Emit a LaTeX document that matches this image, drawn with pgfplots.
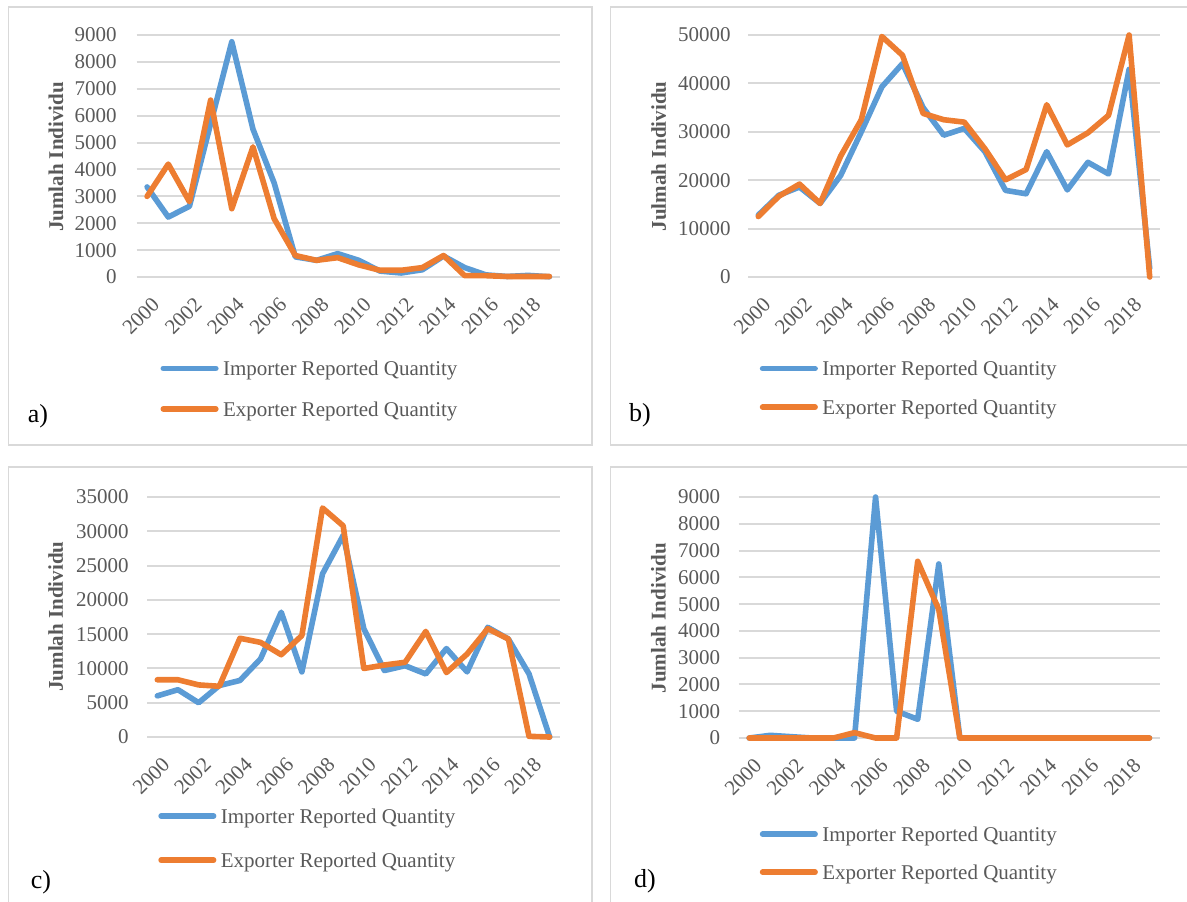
\documentclass[border=0pt]{standalone}
\usepackage{fontspec}
\setmainfont{Liberation Serif}
\usepackage{pgfplots}
\pgfplotsset{compat=1.18}
\definecolor{impblue}{HTML}{5B9BD5}
\definecolor{exporange}{HTML}{ED7D31}
\definecolor{gridgray}{HTML}{D9D9D9}
\definecolor{textgray}{HTML}{595959}
\definecolor{boxgray}{HTML}{D9D9D9}

\pgfplotsset{
  panel/.style={
    scale only axis,
    anchor=south west,
    clip=false,
    xmin=1999.5, xmax=2019.5,
    ymin=0,
    axis line style={draw=none},
    major tick length=0pt,
    ymajorgrids,
    grid style={gridgray, line width=1pt},
    xtick={2000,2002,...,2018},
    /pgf/number format/assume math mode=true,
    /pgf/number format/1000 sep={},
    scaled y ticks=false,
    tick label style={font=\fontsize{10.5}{12}\selectfont, text=textgray},
    yticklabel style={inner sep=0pt, xshift=-9pt},
    xticklabel style={inner sep=0pt, xshift=4.5pt, yshift=-12pt, rotate=45, anchor=east},
    ylabel style={font=\bfseries\fontsize{10.5}{12}\selectfont, text=textgray, anchor=center},
    legend cell align=left,
    legend style={draw=none, fill=none, inner sep=0pt, outer sep=0pt, anchor=west,
      font=\fontsize{10.5}{12}\selectfont, text=textgray,
      nodes={inner sep=0pt},
      /tikz/every odd column/.append style={column sep=2.2pt}},
    legend image code/.code={\draw[##1, line width=2.8pt, line cap=round] (0pt,0.7pt) -- (26.25pt,0.7pt);},
  },
  imp/.style={impblue, line width=2.8pt, line join=round, line cap=round, mark=none},
  exq/.style={exporange, line width=2.8pt, line join=round, line cap=round, mark=none},
}

\begin{document}
\begin{tikzpicture}
\path[use as bounding box] (0,0) rectangle (593.5pt,-450.5pt);
\draw[boxgray, line width=0.8pt] (4.25pt,-3.5pt) rectangle (296pt,-222.5pt);
\draw[boxgray, line width=0.8pt] (305.25pt,-3.5pt) rectangle (600pt,-222.5pt);
\draw[boxgray, line width=0.8pt] (4.25pt,-233.5pt) rectangle (296pt,-460pt);
\draw[boxgray, line width=0.8pt] (305.25pt,-233.5pt) rectangle (600pt,-460pt);

% ---------------- a ----------------
\begin{axis}[panel, at={(68.25pt,-138.5pt)}, width=211.75pt, height=121pt,
  ymax=9000, ytick={0,1000,...,9000},
  ylabel={Jumlah Individu}, ylabel style={at={(axis description cs:-0.19,0.496)}},
  yticklabel style={xshift=-0.75pt},
  legend style={at={(axis description cs:0.0567,-0.467)}, row sep=11.5pt}]
\addplot[imp] coordinates {(2000,3350)(2001,2230)(2002,2630)(2003,5700)(2004,8750)(2005,5500)(2006,3500)(2007,750)(2008,620)(2009,870)(2010,620)(2011,220)(2012,150)(2013,270)(2014,780)(2015,350)(2016,80)(2017,20)(2018,60)(2019,10)};
\addplot[exq] coordinates {(2000,3000)(2001,4200)(2002,2800)(2003,6580)(2004,2540)(2005,4840)(2006,2170)(2007,800)(2008,620)(2009,720)(2010,450)(2011,250)(2012,250)(2013,350)(2014,800)(2015,50)(2016,50)(2017,20)(2018,20)(2019,20)};
\legend{Importer Reported Quantity, Exporter Reported Quantity}
\end{axis}

% ---------------- b ----------------
\begin{axis}[panel, at={(374pt,-138.5pt)}, width=206pt, height=121pt,
  ymax=50000, ytick={0,10000,...,50000},
  ylabel={Julmah Individu}, ylabel style={at={(axis description cs:-0.217,0.498)}},
  yticklabel style={xshift=0.5pt},
  legend style={at={(axis description cs:0.0286,-0.464)}, row sep=10.5pt}]
\addplot[imp] coordinates {(2000,12800)(2001,16900)(2002,18600)(2003,15200)(2004,21000)(2005,30000)(2006,39300)(2007,44100)(2008,35000)(2009,29300)(2010,30700)(2011,25900)(2012,17900)(2013,17200)(2014,25900)(2015,18000)(2016,23700)(2017,21300)(2018,42900)(2019,1800)};
\addplot[exq] coordinates {(2000,12500)(2001,16700)(2002,19200)(2003,15200)(2004,25000)(2005,32500)(2006,49700)(2007,45800)(2008,33800)(2009,32500)(2010,32000)(2011,26500)(2012,20100)(2013,22200)(2014,35600)(2015,27300)(2016,29800)(2017,33400)(2018,50000)(2019,0)};
\legend{Importer Reported Quantity, Exporter Reported Quantity}
\end{axis}

% ---------------- c ----------------
\begin{axis}[panel, at={(73.5pt,-368.5pt)}, width=206.5pt, height=120pt,
  ymax=35000, ytick={0,5000,...,35000},
  ylabel={Jumlah Individu}, ylabel style={at={(axis description cs:-0.221,0.502)}},
  legend style={at={(axis description cs:0.0274,-0.427)}, row sep=13.3pt}]
\addplot[imp] coordinates {(2000,6000)(2001,6900)(2002,5000)(2003,7500)(2004,8250)(2005,11400)(2006,18200)(2007,9500)(2008,23800)(2009,29400)(2010,15800)(2011,9700)(2012,10400)(2013,9200)(2014,12900)(2015,9500)(2016,16000)(2017,14300)(2018,9200)(2019,0)};
\addplot[exq] coordinates {(2000,8350)(2001,8350)(2002,7600)(2003,7400)(2004,14400)(2005,13800)(2006,12000)(2007,14800)(2008,33400)(2009,30800)(2010,10000)(2011,10500)(2012,10900)(2013,15400)(2014,9400)(2015,12100)(2016,15800)(2017,14300)(2018,100)(2019,0)};
\legend{Importer Reported Quantity, Exporter Reported Quantity}
\end{axis}

% ---------------- d ----------------
\begin{axis}[panel, at={(369.3pt,-369pt)}, width=210.7pt, height=120.5pt,
  ymax=9000, ytick={0,1000,...,9000},
  ylabel={Jumlah Individu}, ylabel style={at={(axis description cs:-0.19,0.497)}},
  legend style={at={(axis description cs:0.0503,-0.484)}, row sep=10.2pt}]
\addplot[imp] coordinates {(2000,0)(2001,100)(2002,50)(2003,0)(2004,0)(2005,0)(2006,9000)(2007,1000)(2008,700)(2009,6500)(2010,0)(2011,0)(2012,0)(2013,0)(2014,0)(2015,0)(2016,0)(2017,0)(2018,0)(2019,0)};
\addplot[exq] coordinates {(2000,0)(2001,0)(2002,0)(2003,0)(2004,0)(2005,200)(2006,0)(2007,0)(2008,6600)(2009,4800)(2010,0)(2011,0)(2012,0)(2013,0)(2014,0)(2015,0)(2016,0)(2017,0)(2018,0)(2019,0)};
\legend{Importer Reported Quantity, Exporter Reported Quantity}
\end{axis}

\node[font=\fontsize{13}{15}\selectfont] at (19pt,-208pt) {a)};
\node[font=\fontsize{13}{15}\selectfont] at (320pt,-207.5pt) {b)};
\node[font=\fontsize{13}{15}\selectfont] at (20.5pt,-441pt) {c)};
\node[font=\fontsize{13}{15}\selectfont] at (322.5pt,-440.5pt) {d)};
\end{tikzpicture}
\end{document}
